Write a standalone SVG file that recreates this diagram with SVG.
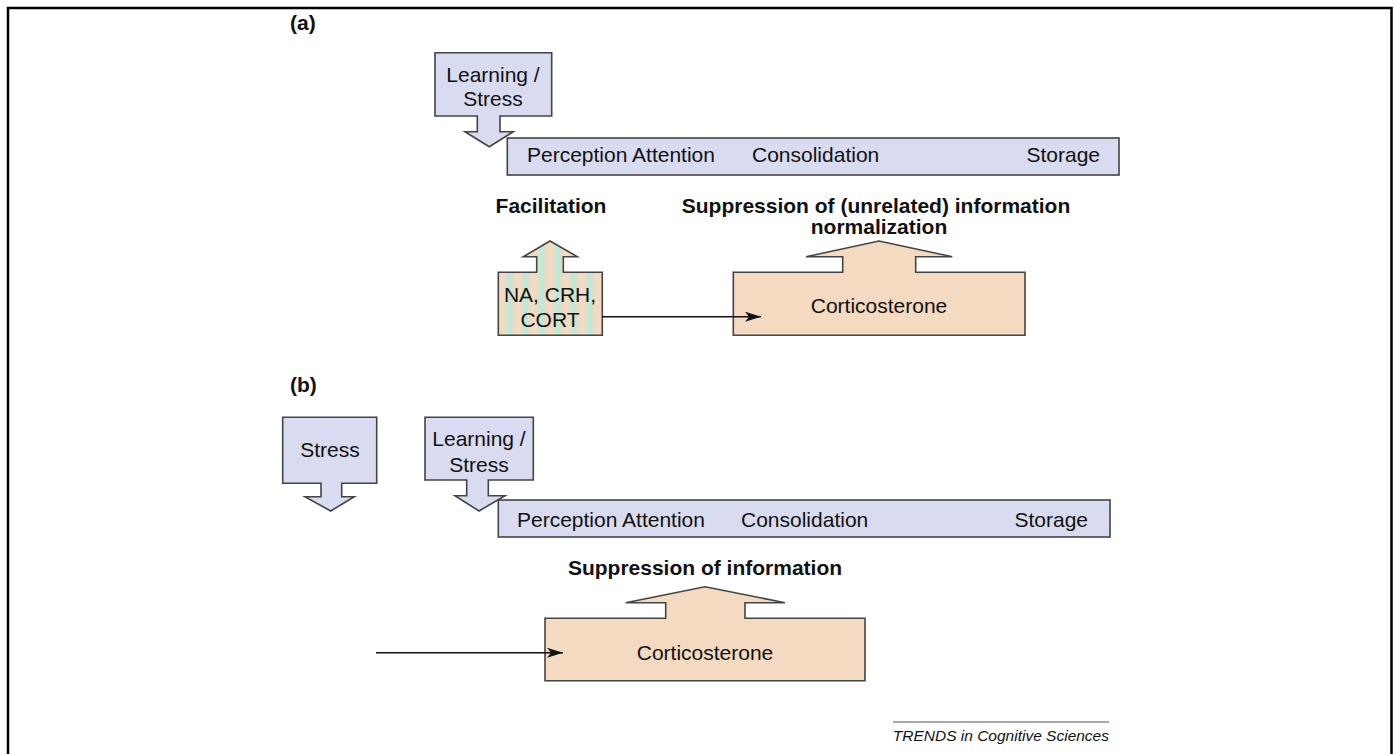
<svg xmlns="http://www.w3.org/2000/svg" width="1395" height="754" viewBox="0 0 1395 754">
<style>
.lav{fill:#D9DCF0;stroke:#444;stroke-width:1.6}
.peach{fill:#F3DAC0;stroke:#444;stroke-width:1.6}
.t{font-family:"Liberation Sans",Arial,sans-serif;font-size:21px;fill:#111}
.c{text-anchor:middle}
.b{font-weight:bold}
.conn{stroke:#111;stroke-width:1.6;fill:none}
</style>
<defs>
<pattern id="stripes" patternUnits="userSpaceOnUse" x="498" y="0" width="16" height="10">
<rect x="0" y="0" width="8" height="10" fill="#F3DAC0"/>
<rect x="8" y="0" width="8" height="10" fill="#C9E6D4"/>
</pattern>
<marker id="ah" viewBox="0 0 16 10" refX="16" refY="5" markerWidth="16" markerHeight="10" markerUnits="userSpaceOnUse" orient="auto">
<path d="M0,0 L16,5 L0,10 L4,5 Z" fill="#111"/>
</marker>
</defs>
<rect x="8" y="8" width="1383.5" height="760" fill="none" stroke="#000" stroke-width="2.5"/>

<text class="t b" x="290" y="30">(a)</text>

<g id="a-learning">
<path class="lav" d="M435,52.7 H551.7 V116 H500 V131.7 H513.3 L489.3,146.7 L465,131.7 H477.3 V116 H435 Z"/>
<text class="t c" x="493" y="82">Learning /</text>
<text class="t c" x="493" y="106">Stress</text>
</g>

<g id="a-process">
<rect class="lav" x="507.3" y="138" width="611.7" height="37"/>
<text class="t" x="527" y="162">Perception Attention</text>
<text class="t" x="752" y="162">Consolidation</text>
<text class="t" x="1100" y="162" text-anchor="end">Storage</text>
</g>

<g id="a-labels">
<text class="t b c" x="551" y="213">Facilitation</text>
<text class="t b c" x="876" y="213">Suppression of (unrelated) information</text>
<text class="t b c" x="879" y="234">normalization</text>
</g>

<g id="a-na">
<path d="M498.3,272.3 H536.7 V256.7 H523.3 L550,241 L577.3,256.7 H563.3 V272.3 H602.3 V335.3 H498.3 Z" fill="url(#stripes)" stroke="#444" stroke-width="1.6"/>
<text class="t c" x="550" y="302">NA, CRH,</text>
<text class="t c" x="550" y="327">CORT</text>
</g>

<g id="a-cort">
<path class="peach" d="M733.3,272.3 H842.7 V256.7 H806 L879,241 L952.3,256.7 H915.7 V272.3 H1025 V335.3 H733.3 Z"/>
<text class="t c" x="879" y="312.5">Corticosterone</text>
</g>

<text class="t b" x="290" y="392">(b)</text>

<g id="b-stress">
<path class="lav" d="M282.7,417.3 H376.7 V483.3 H341.7 V496.7 H354.3 L330.7,511 L305,496.7 H321 V483.3 H282.7 Z"/>
<text class="t c" x="330" y="457">Stress</text>
</g>

<g id="b-learning">
<path class="lav" d="M425,417.3 H533.3 V480 H488.3 V495.7 H505 L479,511 L455,495.7 H466.7 V480 H425 Z"/>
<text class="t c" x="479" y="446">Learning /</text>
<text class="t c" x="479" y="472">Stress</text>
</g>

<g id="b-process">
<rect class="lav" x="498.3" y="500" width="611.7" height="37"/>
<text class="t" x="517" y="527">Perception Attention</text>
<text class="t" x="741" y="527">Consolidation</text>
<text class="t" x="1088" y="527" text-anchor="end">Storage</text>
</g>

<g id="b-labels">
<text class="t b c" x="705" y="575">Suppression of information</text>
</g>

<g id="b-cort">
<path class="peach" d="M545,618.3 H665.7 V602.7 H625.7 L705,586.7 L785,602.7 H745 V618.3 H865 V680.7 H545 Z"/>
<text class="t c" x="705" y="660">Corticosterone</text>
</g>

<g id="connectors">
<line class="conn" x1="602.3" y1="316.7" x2="761" y2="316.7" marker-end="url(#ah)"/>
<line class="conn" x1="376" y1="652.7" x2="563" y2="652.7" marker-end="url(#ah)"/>
</g>

<g id="footer">
<line x1="893" y1="722" x2="1109" y2="722" stroke="#555" stroke-width="1"/>
<text x="1109" y="741" text-anchor="end" font-family="Liberation Sans,Arial,sans-serif" font-size="15.5" font-style="italic" fill="#111">TRENDS in Cognitive Sciences</text>
</g>
</svg>
